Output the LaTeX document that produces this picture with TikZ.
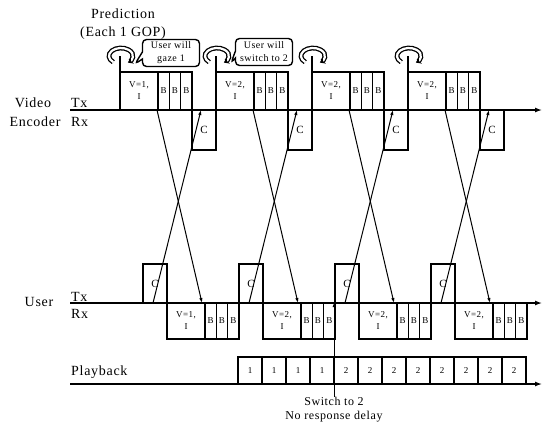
\documentclass[tikz,border=0pt]{standalone}
\usepackage{fontspec}
\setmainfont{Liberation Serif}[LetterSpace=5]
\usetikzlibrary{arrows.meta,positioning,calc,shapes.callouts}
\tikzset{
  frm/.style={draw, line width=1.6pt, inner sep=0pt, outer sep=0pt, align=center, font=\fontsize{9}{12}\selectfont},
  iframe/.style={frm, minimum width=38pt},
  bframe/.style={frm, minimum width=11.33pt},
  cframe/.style={frm, minimum width=24pt, font=\fontsize{11}{12}\selectfont},
  pbox/.style={frm, minimum width=24pt, minimum height=27pt},
  lbl/.style={font=\fontsize{14}{16}\selectfont, inner sep=0pt},
  axis/.style={line width=1.3pt, -{Latex[length=7pt,width=5pt]}},
  xarrow/.style={line width=1pt, -{Latex[length=5pt,width=3.5pt]}},
  bubble/.style={draw, rectangle callout, rounded corners=4pt, line width=1.4pt, align=center, minimum width=57pt, minimum height=27pt, inner sep=1pt, font=\fontsize{10}{13}\selectfont},
  loopar/.style={draw, line width=1.3pt, double=white, double distance=2.2pt, -{Stealth[length=5pt,width=7pt]}}
}
\begin{document}
\begin{tikzpicture}[x=1pt,y=-1pt]
\useasboundingbox (0,0) rectangle (542,426);
\coordinate (tx0) at (70,110); \coordinate (tx1) at (542,110);
\coordinate (ux0) at (70,303); \coordinate (ux1) at (542,303);
\coordinate (px0) at (70,384); \coordinate (px1) at (542,384);
\draw[axis] (tx0) -- (tx1);
\draw[axis] (ux0) -- (ux1);
\draw[axis] (px0) -- (px1);
% side labels
\node[lbl] (video) at (33,103) {Video};
\node[lbl] (enc) at (35,122) {Encoder};
\node[lbl, anchor=west] (ttx) at (71,103) {Tx};
\node[lbl, anchor=west] (trx) at (71,122) {Rx};
\node[lbl] (user) at (39,302) {User};
\node[lbl, anchor=west] (utx) at (71,297) {Tx};
\node[lbl, anchor=west] (urx) at (71,314) {Rx};
\node[lbl, anchor=west] (play) at (71,372) {Playback};
\node[lbl, align=center, font=\fontsize{14}{18}\selectfont] (pred) at (123,24) {Prediction\\(Each 1 GOP)};
% one GOP per step
\foreach \k/\v in {0/1,1/2,2/2,3/2}{
  \pgfmathsetmacro{\t}{120+96*\k}
  \node[iframe, minimum height=38pt, anchor=south west] (tI\k) at (\t,110) {V=\v,\\I};
  \node[bframe, minimum height=38pt, anchor=south west] (tBa\k) at (tI\k.south east) {B};
  \node[bframe, minimum height=38pt, anchor=south west] (tBb\k) at (tBa\k.south east) {B};
  \node[bframe, minimum height=38pt, anchor=south west] (tBc\k) at (tBb\k.south east) {B};
  \node[cframe, minimum height=40pt, anchor=north west] (tC\k) at (tBc\k.south east) {C};
  \node[cframe, minimum height=39pt, anchor=south west] (bC\k) at (\t+23,303) {C};
  \node[iframe, minimum height=36pt, anchor=north west] (bI\k) at (bC\k.south east) {V=\v,\\I};
  \node[bframe, minimum height=36pt, anchor=north west] (bBa\k) at (bI\k.north east) {B};
  \node[bframe, minimum height=36pt, anchor=north west] (bBb\k) at (bBa\k.north east) {B};
  \node[bframe, minimum height=36pt, anchor=north west] (bBc\k) at (bBb\k.north east) {B};
  \draw[xarrow] ($(tI\k.south east)+(-1,0)$) -- ($(bI\k.north east)+(-3,0)$);
  \draw[xarrow] ($(bC\k.south west)+(10,0)$) -- ($(tC\k.north west)+(9,0)$);
  \draw[line width=1.6pt] (tI\k.north west) -- ++(0,-16) coordinate (rc\k);
  \draw[loopar] ($(rc\k)+(1,0)$) ++(-230:12 and 8) arc[start angle=-230, end angle=55, x radius=12, y radius=8];
}
\node[bubble, callout absolute pointer={(135,64)}] (gaze) at (171,53) {User will\\gaze 1};
\node[bubble, callout absolute pointer={(231,63)}] (swpred) at (264,52) {User will\\switch to 2};
% playback
\foreach \p [count=\j from 0] in {1,1,1,1,2,2,2,2,2,2,2,2}
  \node[pbox, anchor=south west] (pb\j) at (238+24*\j,384) {\p};
\node[lbl, align=center, font=\fontsize{12}{14}\selectfont, anchor=north] (swtxt) at (334,397) {Switch to 2\\No response delay};
\draw[line width=0.8pt, -{Latex[length=4pt,width=3pt]}] (swtxt.north) -- (swtxt.north |- ux0);
\end{tikzpicture}
\end{document}
